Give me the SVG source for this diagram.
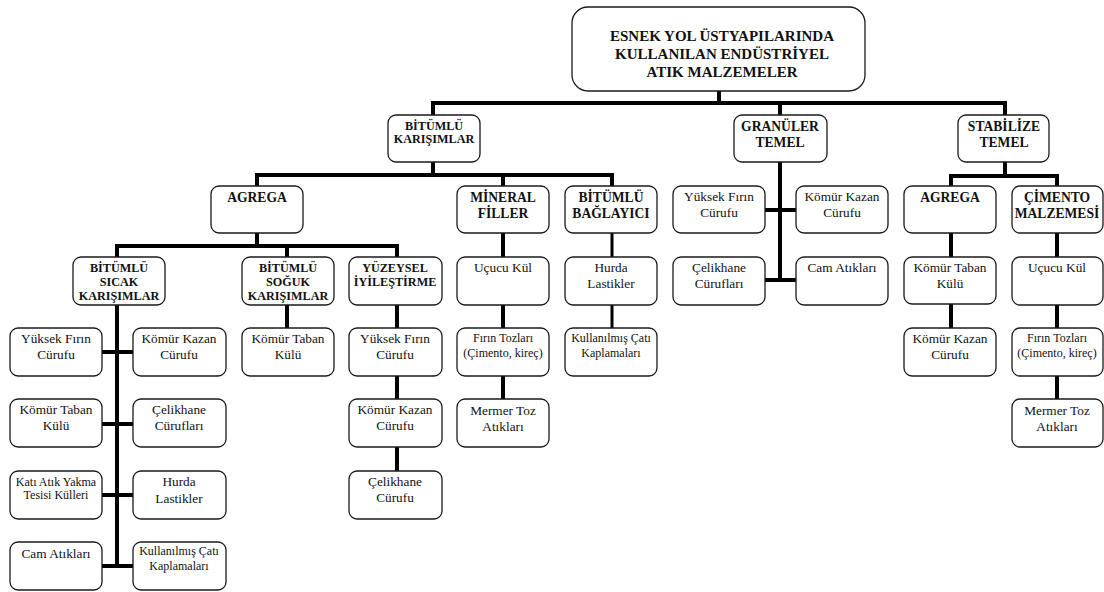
<svg xmlns="http://www.w3.org/2000/svg" width="1104" height="592" viewBox="0 0 1104 592">
<style>
.bx{fill:#fff;stroke:#1a1a1a;stroke-width:1.3}
.c{fill:none;stroke:#000;stroke-width:4;stroke-linecap:square}
.c3{fill:none;stroke:#000;stroke-width:3;stroke-linecap:square}
text{font-family:"Liberation Serif","Tinos","Nimbus Roman","DejaVu Serif",serif;fill:#111;text-anchor:middle}
.r{font-size:15px;font-weight:bold}
.h{font-size:13.6px;font-weight:bold}
.hs{font-size:12.2px;font-weight:bold}
.t{font-size:13.3px;font-weight:normal;font-style:normal}
.s{font-size:12px;font-weight:normal;font-style:normal}
</style>
<rect width="1104" height="592" fill="#fff"/>
<g id="connectors">
<path class="c" d="M719,91V103M433,103H1005M433,103V115M780,103V115M1005,103V115"/>
<path class="c" d="M433,162V175M257,175H612M257,175V186M503,175V186M612,175V186"/>
<path class="c" d="M257,233V246M117,246H397M117,246V257M287,246V257M397,246V257"/>
<path class="c" d="M117,305V566M102,352H133M102,424H133M102,495H133M102,566H133"/>
<path class="c" d="M287,305V328"/>
<path class="c" d="M397,305V328M397,376V399M397,447V471"/>
<path class="c" d="M503,233V257M503,305V328M503,376V399"/>
<path class="c3" d="M612,233V257M612,305V328"/>
<path class="c" d="M780,162V280M765,210H796M765,280H796"/>
<path class="c" d="M1005,162V176M951,176H1057M951,176V186M1057,176V186"/>
<path class="c" d="M951,233V257M951,304V328"/>
<path class="c" d="M1057,233V257M1057,305V328M1057,376V399"/>
</g>
<g id="root"><rect class="bx" x="572" y="7" width="293" height="84" rx="16"/>
<text class="r" x="722" y="41">ESNEK YOL ÜSTYAPILARINDA</text>
<text class="r" x="722" y="59">KULLANILAN ENDÜSTRİYEL</text>
<text class="r" x="722" y="77">ATIK MALZEMELER</text></g>
<g id="bitumlu-karisimlar"><rect class="bx" x="388" y="115" width="92" height="47" rx="8"/>
<text class="hs" x="434" y="130">BİTÜMLÜ</text><text class="hs" x="434" y="143">KARIŞIMLAR</text></g>
<g id="granuler-temel"><rect class="bx" x="734" y="115" width="93" height="47" rx="8"/>
<text class="h" x="780" y="131">GRANÜLER</text><text class="h" x="780" y="147">TEMEL</text></g>
<g id="stabilize-temel"><rect class="bx" x="958" y="115" width="91" height="47" rx="8"/>
<text class="h" x="1004" y="131">STABİLİZE</text><text class="h" x="1004" y="147">TEMEL</text></g>
<g id="agrega1"><rect class="bx" x="211" y="186" width="92" height="47" rx="8"/>
<text class="h" x="257" y="202">AGREGA</text></g>
<g id="mineral-filler"><rect class="bx" x="457" y="186" width="92" height="47" rx="8"/>
<text class="h" x="503" y="202">MİNERAL</text><text class="h" x="503" y="218">FİLLER</text></g>
<g id="bitumlu-baglayici"><rect class="bx" x="565" y="186" width="92" height="47" rx="8"/>
<text class="h" x="611" y="202">BİTÜMLÜ</text><text class="h" x="611" y="218">BAĞLAYICI</text></g>
<g id="g-yuksek"><rect class="bx" x="673" y="186" width="92" height="47" rx="8"/>
<text class="t" x="719" y="201">Yüksek Fırın</text><text class="t" x="719" y="217">Cürufu</text></g>
<g id="g-komur"><rect class="bx" x="796" y="186" width="92" height="47" rx="8"/>
<text class="t" x="842" y="201">Kömür Kazan</text><text class="t" x="842" y="217">Cürufu</text></g>
<g id="g-celik"><rect class="bx" x="673" y="257" width="92" height="48" rx="8"/>
<text class="t" x="719" y="272">Çelikhane</text><text class="t" x="719" y="288">Cürufları</text></g>
<g id="g-cam"><rect class="bx" x="796" y="257" width="92" height="48" rx="8"/>
<text class="t" x="842" y="272">Cam Atıkları</text></g>
<g id="agrega2"><rect class="bx" x="904" y="186" width="92" height="47" rx="8"/>
<text class="h" x="950" y="202">AGREGA</text></g>
<g id="cimento"><rect class="bx" x="1012" y="186" width="91" height="47" rx="8"/>
<text class="h" x="1057" y="202">ÇİMENTO</text><text class="h" x="1057" y="218">MALZEMESİ</text></g>
<g id="sicak"><rect class="bx" x="73" y="257" width="92" height="48" rx="8"/>
<text class="hs" x="119" y="272">BİTÜMLÜ</text><text class="hs" x="119" y="286">SICAK</text><text class="hs" x="119" y="300">KARIŞIMLAR</text></g>
<g id="soguk"><rect class="bx" x="242" y="257" width="92" height="48" rx="8"/>
<text class="hs" x="288" y="272">BİTÜMLÜ</text><text class="hs" x="288" y="286">SOĞUK</text><text class="hs" x="288" y="300">KARIŞIMLAR</text></g>
<g id="yuzeysel"><rect class="bx" x="349" y="257" width="93" height="48" rx="8"/>
<text class="hs" x="395" y="272">YÜZEYSEL</text><text class="hs" x="395" y="286">İYİLEŞTİRME</text></g>
<g id="m-ucucu"><rect class="bx" x="457" y="257" width="92" height="48" rx="8"/>
<text class="t" x="503" y="272">Uçucu Kül</text></g>
<g id="b-hurda"><rect class="bx" x="565" y="257" width="92" height="48" rx="8"/>
<text class="t" x="611" y="272">Hurda</text><text class="t" x="611" y="288">Lastikler</text></g>
<g id="s-komur-taban"><rect class="bx" x="904" y="257" width="92" height="47" rx="8"/>
<text class="t" x="950" y="272">Kömür Taban</text><text class="t" x="950" y="288">Külü</text></g>
<g id="s-ucucu"><rect class="bx" x="1012" y="257" width="91" height="48" rx="8"/>
<text class="t" x="1057" y="272">Uçucu Kül</text></g>
<g id="h-yuksek"><rect class="bx" x="10" y="328" width="92" height="48" rx="8"/>
<text class="t" x="56" y="343">Yüksek Fırın</text><text class="t" x="56" y="359">Cürufu</text></g>
<g id="h-komur-kazan"><rect class="bx" x="133" y="328" width="93" height="48" rx="8"/>
<text class="t" x="179" y="343">Kömür Kazan</text><text class="t" x="179" y="359">Cürufu</text></g>
<g id="h-komur-taban"><rect class="bx" x="10" y="399" width="92" height="48" rx="8"/>
<text class="t" x="56" y="414">Kömür Taban</text><text class="t" x="56" y="430">Külü</text></g>
<g id="h-celik"><rect class="bx" x="133" y="399" width="93" height="48" rx="8"/>
<text class="t" x="179" y="414">Çelikhane</text><text class="t" x="179" y="430">Cürufları</text></g>
<g id="h-kati"><rect class="bx" x="10" y="471" width="92" height="48" rx="8"/>
<text class="s" x="56" y="486">Katı Atık Yakma</text><text class="s" x="56" y="499">Tesisi Külleri</text></g>
<g id="h-hurda"><rect class="bx" x="133" y="471" width="93" height="48" rx="8"/>
<text class="t" x="179" y="486">Hurda</text><text class="t" x="179" y="503">Lastikler</text></g>
<g id="h-cam"><rect class="bx" x="10" y="542" width="92" height="48" rx="8"/>
<text class="t" x="56" y="558">Cam Atıkları</text></g>
<g id="h-kullanilmis"><rect class="bx" x="133" y="542" width="93" height="48" rx="8"/>
<text class="s" x="179" y="555">Kullanılmış Çatı</text><text class="s" x="179" y="570">Kaplamaları</text></g>
<g id="k-komur-taban"><rect class="bx" x="242" y="328" width="92" height="48" rx="8"/>
<text class="t" x="288" y="343">Kömür Taban</text><text class="t" x="288" y="359">Külü</text></g>
<g id="y-yuksek"><rect class="bx" x="349" y="328" width="93" height="48" rx="8"/>
<text class="t" x="395" y="343">Yüksek Fırın</text><text class="t" x="395" y="359">Cürufu</text></g>
<g id="y-komur"><rect class="bx" x="349" y="399" width="93" height="48" rx="8"/>
<text class="t" x="395" y="414">Kömür Kazan</text><text class="t" x="395" y="430">Cürufu</text></g>
<g id="y-celik"><rect class="bx" x="349" y="471" width="93" height="48" rx="8"/>
<text class="t" x="395" y="486">Çelikhane</text><text class="t" x="395" y="502">Cürufu</text></g>
<g id="m-firin"><rect class="bx" x="457" y="328" width="92" height="48" rx="8"/>
<text class="s" x="503" y="342">Fırın Tozları</text><text class="s" x="503" y="357">(Çimento, kireç)</text></g>
<g id="b-kullanilmis"><rect class="bx" x="565" y="328" width="92" height="48" rx="8"/>
<text class="s" x="611" y="342">Kullanılmış Çatı</text><text class="s" x="611" y="357">Kaplamaları</text></g>
<g id="m-mermer"><rect class="bx" x="457" y="399" width="92" height="48" rx="8"/>
<text class="t" x="503" y="415">Mermer Toz</text><text class="t" x="503" y="431">Atıkları</text></g>
<g id="s-komur-kazan"><rect class="bx" x="904" y="328" width="92" height="48" rx="8"/>
<text class="t" x="950" y="343">Kömür Kazan</text><text class="t" x="950" y="359">Cürufu</text></g>
<g id="s-firin"><rect class="bx" x="1012" y="328" width="91" height="48" rx="8"/>
<text class="s" x="1057" y="342">Fırın Tozları</text><text class="s" x="1057" y="357">(Çimento,  kireç)</text></g>
<g id="s-mermer"><rect class="bx" x="1012" y="399" width="91" height="48" rx="8"/>
<text class="t" x="1057" y="415">Mermer Toz</text><text class="t" x="1057" y="431">Atıkları</text></g>
</svg>
